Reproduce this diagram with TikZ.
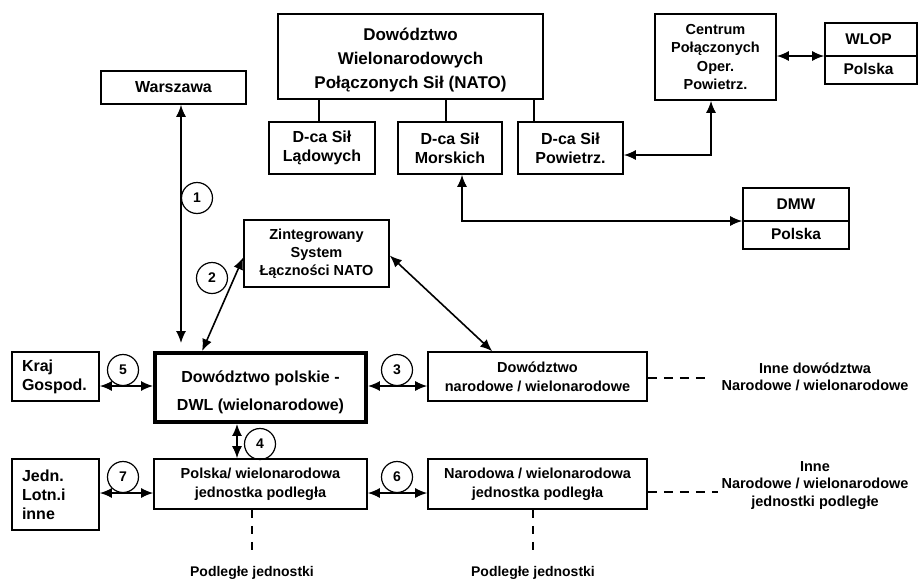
\documentclass[tikz,border=0pt]{standalone}
\usepackage{fontspec}
\setmainfont{Liberation Sans}
\usetikzlibrary{arrows.meta,calc}
\newcommand{\fsz}[2]{\bfseries\fontsize{#1}{#2}\selectfont}
\begin{document}
\begin{tikzpicture}[x=1pt,y=-1pt,
  box/.style={draw, line width=1.6pt, inner sep=0pt, align=center, font=\fsz{14.5}{18}},
  lbox/.style={box, align=left, inner xsep=10pt, font=\fsz{16}{19}},
  num/.style={draw, circle, line width=1.2pt, minimum size=31pt, inner sep=0pt, font=\fsz{14}{16}},
  arr/.style={line width=1.6pt, {Latex[length=12pt,width=10pt]}-{Latex[length=12pt,width=10pt]}},
  link/.style={line width=1.6pt},
  hdashline/.style={line width=1.3pt, dash pattern=on 9pt off 7pt},
  vdashline/.style={line width=1.3pt, dash pattern=on 8pt off 8pt},
  txt/.style={align=center, inner sep=0pt, font=\fsz{14.5}{17.5}}
]
\useasboundingbox (0,0) rectangle (918,581);
\fill[white] (0,0) rectangle (918,581);

% top boxes
\node[box, minimum width=145pt, minimum height=33pt, font=\fsz{16}{19}] (war) at (173.5,87.5) {Warszawa};
\node[box, minimum width=265pt, minimum height=85pt, font=\fsz{17}{24}] (nato) at (410.5,56.5) {\rule{0pt}{20pt}Dowództwo\\Wielonarodowych\\Połączonych Sił (NATO)};
\node[box, minimum width=106pt, minimum height=52pt, font=\fsz{16}{19}] (lad) at (322,148) {D-ca Sił\\Lądowych};
\node[box, minimum width=104pt, minimum height=52pt, font=\fsz{16}{19}] (mor) at (450,148) {D-ca Sił\\Morskich};
\node[box, minimum width=105pt, minimum height=52pt, font=\fsz{16}{19}] (pow) at (570.5,148) {D-ca Sił\\Powietrz.};
\node[box, minimum width=121pt, minimum height=86pt, font=\fsz{14.5}{18.3}] (cen) at (715.5,57) {Centrum\\Połączonych\\Oper.\\Powietrz.};
\node[box, minimum width=92pt, minimum height=61pt] (wlop) at (871,53.5) {};
\draw[line width=1.6pt] ($(wlop.west)+(0,2.5)$) -- ($(wlop.east)+(0,2.5)$);
\node[txt, font=\fsz{15.5}{18}] (wlopt) at (868.5,39) {WLOP};
\node[txt, font=\fsz{15.5}{18}] (wlopp) at (868.5,69) {Polska};
\node[box, minimum width=106pt, minimum height=61pt] (dmw) at (796,218.5) {};
\draw[line width=1.6pt] ($(dmw.west)+(0,2.5)$) -- ($(dmw.east)+(0,2.5)$);
\node[txt, font=\fsz{15.5}{18}] (dmwt) at (796,204) {DMW};
\node[txt, font=\fsz{15.5}{18}] (dmwp) at (796,234) {Polska};
\node[box, minimum width=145pt, minimum height=67pt, font=\fsz{14.5}{17.8}] (zin) at (316.5,253.5) {Zintegrowany\\System\\Łączności NATO};

% middle row
\node[lbox, text width=67pt, minimum height=49pt] (kraj) at (55.5,376.5) {Kraj\\Gospod.};
\node[box, line width=3.8pt, minimum width=211pt, minimum height=69pt, font=\fsz{16}{27.7}] (dwl) at (260.5,387.5) {\rule{0pt}{22pt}Dowództwo polskie -\\DWL (wielonarodowe)};
\node[box, minimum width=219pt, minimum height=49pt, font=\fsz{14.5}{19}] (nar) at (537.5,376.5) {Dowództwo\\narodowe / wielonarodowe};
\node[txt] (inne1) at (815,377) {Inne dowództwa\\Narodowe / wielonarodowe};

% bottom row
\node[lbox, text width=67pt, minimum height=71pt] (jed) at (55.5,494.5) {Jedn.\\Lotn.i\\inne};
\node[box, minimum width=213pt, minimum height=50pt, font=\fsz{14.5}{19}] (pol) at (260.5,484) {Polska/ wielonarodowa\\jednostka podległa};
\node[box, minimum width=219pt, minimum height=50pt, font=\fsz{14.5}{19}] (narj) at (537.5,484) {Narodowa / wielonarodowa\\jednostka podległa};
\node[txt] (inne2) at (815,485.5) {Inne\\Narodowe / wielonarodowe\\jednostki podległe};
\node[txt, font=\fsz{14}{17}] (pj1) at (252,573) {Podległe jednostki};
\node[txt, font=\fsz{14}{17}] (pj2) at (533,573) {Podległe jednostki};

% numbers
\node[num] (n1) at (197,198) {1};
\node[num] (n2) at (212,278) {2};
\node[num] (n3) at (397,370) {3};
\node[num] (n4) at (260,444) {4};
\node[num] (n5) at (123,370) {5};
\node[num] (n6) at (397,477) {6};
\node[num] (n7) at (123,477) {7};

% helper coordinates
\coordinate (x1) at (181,0);
\coordinate (xl) at (319,0);
\coordinate (xm) at (446,0);
\coordinate (xp) at (534,0);
\coordinate (k1) at (711,155);
\coordinate (k2) at (462,221);
\coordinate (yw) at (0,56);
\coordinate (r1) at (0,386);
\coordinate (r2) at (0,493);
\coordinate (x4) at (237,0);
\coordinate (d1) at (710,378);
\coordinate (d2) at (718,492);
\coordinate (v1) at (252,557);
\coordinate (v2) at (533,557);

% NATO tree
\draw[link] (nato.south -| xl) -- (lad.north -| xl);
\draw[link] (nato.south -| xm) -- (mor.north -| xm);
\draw[link] (nato.south -| xp) -- (pow.north -| xp);

% arrows
\draw[arr, shorten >=8pt] (war.south -| x1) -- (dwl.north -| x1);
\draw[arr] ($(zin.west)+(0,4)$) -- ($(dwl.north west)+(49,0)$);
\draw[arr] ($(zin.east)+(0,2)$) -- ($(nar.north west)+(65,0)$);
\draw[arr] (pow.east |- k1) -- (k1) -- (cen.south -| k1);
\draw[arr] (mor.south -| k2) -- (k2) -- (dmw.west |- k2);
\draw[arr] (cen.east |- yw) -- (wlop.west |- yw);
\draw[arr] (kraj.east |- r1) -- (dwl.west |- r1);
\draw[arr] (dwl.east |- r1) -- (nar.west |- r1);
\draw[arr] (jed.east |- r2) -- (pol.west |- r2);
\draw[arr] (pol.east |- r2) -- (narj.west |- r2);
\draw[arr] (dwl.south -| x4) -- (pol.north -| x4);

% dashed
\draw[hdashline] (nar.east |- d1) -- (d1);
\draw[hdashline] (narj.east |- d2) -- (d2);
\draw[vdashline] (pol.south -| v1) -- (v1);
\draw[vdashline] (narj.south -| v2) -- (v2);
\end{tikzpicture}
\end{document}
